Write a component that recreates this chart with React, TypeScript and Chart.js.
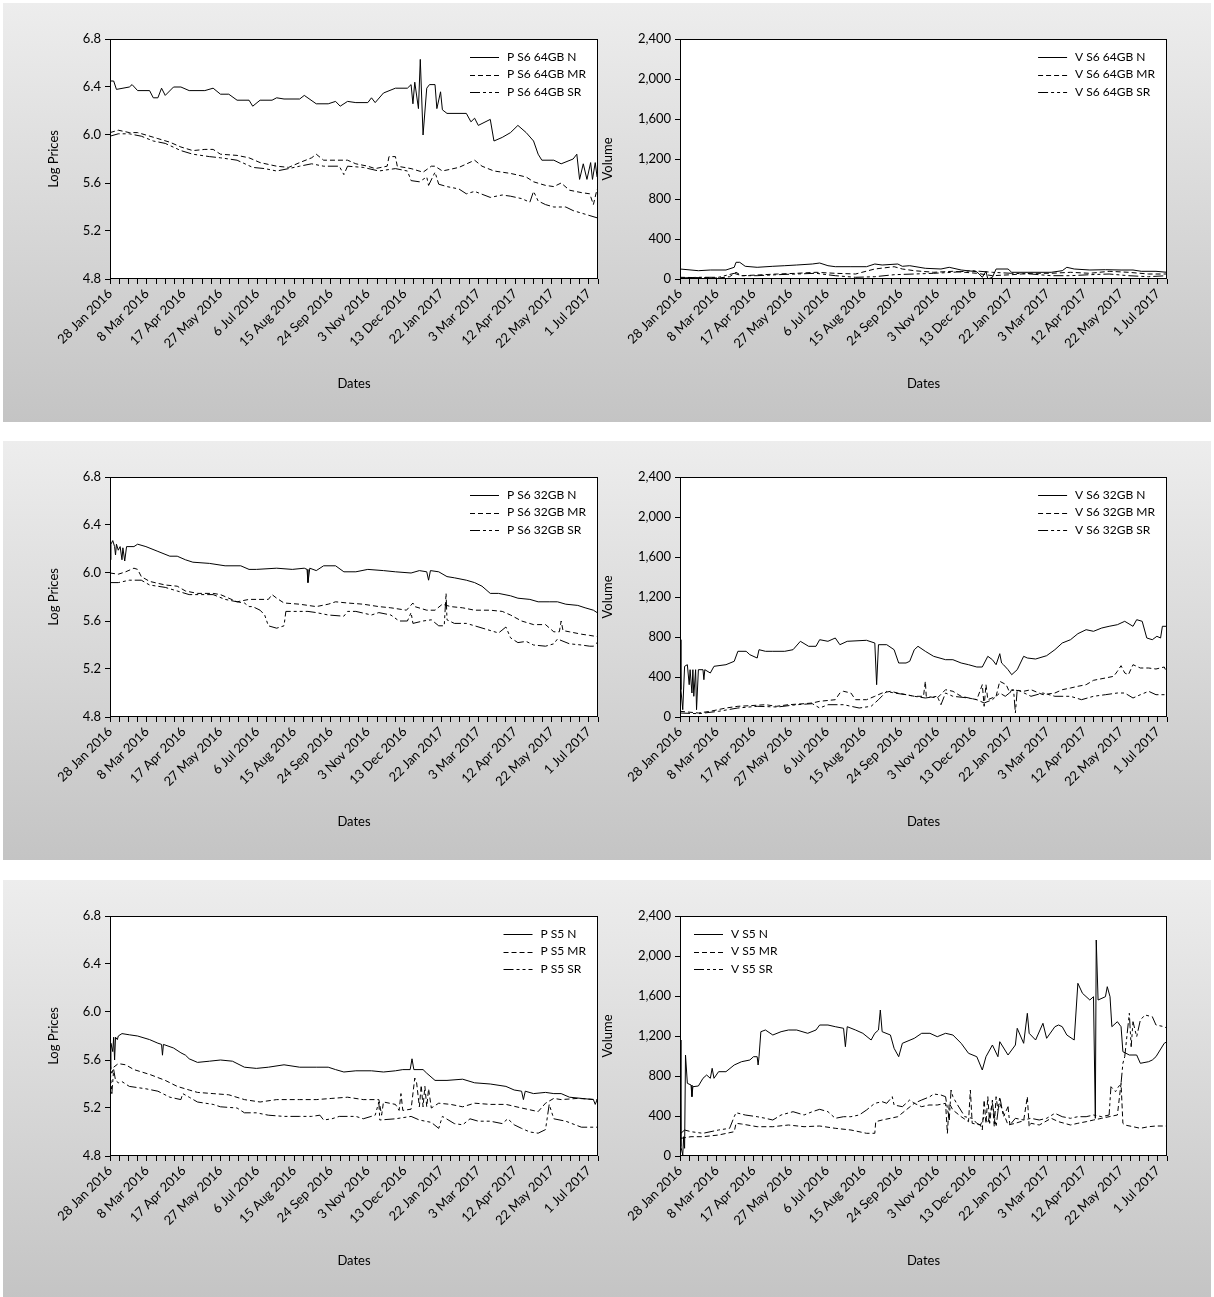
import { useEffect, useRef } from 'react';
import { Chart, registerables } from 'chart.js';

Chart.register(...registerables);

// ---------- axis data ----------
const xTickLabels = [
  '28 Jan 2016', '8 Mar 2016', '17 Apr 2016', '27 May 2016', '6 Jul 2016', '15 Aug 2016', '24 Sep 2016',
  '3 Nov 2016', '13 Dec 2016', '22 Jan 2017', '3 Mar 2017', '12 Apr 2017', '22 May 2017', '1 Jul 2017',
];
const xLabelEveryDays = 40;
const xMinorEveryDays = 10;
const xLastDay = 530;

const priceTicks = [4.8, 5.2, 5.6, 6.0, 6.4, 6.8];
const volumeTicks = [0, 400, 800, 1200, 1600, 2000, 2400];

type Pt = [number, number]; // [day since 28 Jan 2016, value]

// ---------- P S6 64GB ----------
const pS6_64_N: Pt[] = [[0,6.45],[4,6.45],[7,6.38],[21,6.40],[24,6.42],[30,6.37],[43,6.37],[47,6.31],[52,6.31],[56,6.39],[60,6.33],[69,6.40],[77,6.40],[86,6.37],[103,6.37],[112,6.39],[120,6.34],[129,6.34],[138,6.29],[151,6.29],[155,6.24],[163,6.29],[176,6.29],[181,6.31],[189,6.30],[206,6.30],[211,6.33],[224,6.26],[237,6.26],[245,6.28],[250,6.24],[258,6.28],[267,6.27],[280,6.27],[284,6.31],[288,6.27],[297,6.35],[310,6.39],[323,6.39],[327,6.42],[329,6.26],[331,6.44],[335,6.22],[337,6.63],[340,6.00],[344,6.39],[347,6.42],[353,6.42],[355,6.22],[359,6.36],[361,6.21],[366,6.18],[387,6.18],[392,6.11],[396,6.14],[400,6.08],[413,6.13],[417,5.95],[426,5.98],[435,6.02],[443,6.08],[452,6.02],[460,5.95],[465,5.84],[469,5.79],[482,5.79],[490,5.76],[503,5.80],[507,5.84],[510,5.63],[514,5.76],[518,5.63],[522,5.77],[524,5.63],[527,5.77],[529,5.65]];
const pS6_64_MR: Pt[] = [[0,6.02],[9,6.04],[21,6.02],[30,6.02],[39,6.00],[52,5.97],[65,5.94],[77,5.90],[90,5.87],[103,5.88],[112,5.88],[120,5.84],[138,5.83],[151,5.81],[163,5.77],[181,5.74],[194,5.73],[206,5.77],[219,5.81],[224,5.84],[232,5.79],[245,5.79],[258,5.79],[267,5.76],[280,5.74],[288,5.72],[301,5.74],[303,5.82],[310,5.82],[312,5.74],[327,5.72],[340,5.69],[349,5.74],[353,5.74],[361,5.70],[379,5.73],[396,5.79],[404,5.74],[417,5.70],[435,5.68],[452,5.65],[460,5.61],[473,5.58],[482,5.57],[490,5.60],[499,5.54],[512,5.52],[521,5.51],[525,5.42],[529,5.55]];
const pS6_64_SR: Pt[] = [[0,5.99],[9,6.01],[21,6.01],[34,5.99],[47,5.95],[60,5.93],[77,5.87],[90,5.84],[108,5.82],[120,5.81],[138,5.79],[155,5.73],[168,5.72],[181,5.70],[194,5.72],[206,5.74],[219,5.76],[232,5.74],[249,5.74],[254,5.67],[258,5.74],[275,5.73],[292,5.70],[310,5.72],[323,5.70],[327,5.62],[336,5.61],[344,5.65],[346,5.58],[353,5.69],[357,5.59],[366,5.57],[379,5.55],[387,5.51],[396,5.53],[413,5.48],[426,5.50],[435,5.49],[447,5.47],[456,5.44],[460,5.53],[465,5.45],[473,5.42],[482,5.40],[495,5.40],[503,5.37],[516,5.34],[529,5.31]];

// ---------- V S6 64GB ----------
const vS6_64_N: Pt[] = [[0,100],[20,83],[33,90],[50,90],[59,117],[61,167],[65,167],[71,127],[84,117],[101,127],[114,133],[127,140],[144,150],[152,160],[161,133],[169,123],[186,123],[203,123],[212,150],[220,140],[237,150],[242,127],[250,133],[267,107],[284,100],[293,117],[306,90],[323,73],[329,17],[333,77],[335,0],[340,17],[344,100],[357,100],[361,67],[382,67],[404,67],[416,83],[421,117],[429,100],[446,90],[463,93],[480,90],[493,90],[502,77],[518,77],[530,67]];
const vS6_64_MR: Pt[] = [[0,17],[42,10],[54,23],[61,67],[67,33],[84,40],[106,50],[127,57],[148,67],[169,57],[191,50],[212,100],[233,123],[242,100],[255,83],[276,67],[297,77],[323,57],[340,33],[361,43],[382,57],[404,57],[425,67],[446,57],[467,77],[488,67],[510,50],[530,50]];
const vS6_64_SR: Pt[] = [[0,10],[20,17],[42,17],[59,57],[67,33],[84,33],[106,43],[127,50],[148,57],[169,33],[191,17],[212,23],[233,43],[255,50],[276,57],[297,67],[318,83],[340,67],[361,57],[382,50],[404,33],[425,33],[446,43],[467,50],[488,33],[510,23],[530,33]];

// ---------- P S6 32GB ----------
const pS6_32_N: Pt[] = [[0,6.11],[1,6.24],[3,6.27],[5,6.22],[6,6.15],[7,6.24],[9,6.19],[11,6.22],[13,6.11],[14,6.21],[16,6.10],[18,6.22],[26,6.22],[30,6.24],[39,6.22],[52,6.18],[65,6.14],[73,6.14],[82,6.11],[90,6.09],[108,6.08],[125,6.06],[142,6.06],[151,6.03],[159,6.03],[181,6.04],[198,6.03],[211,6.04],[214,6.03],[215,5.92],[217,6.04],[224,6.02],[232,6.06],[245,6.06],[254,6.01],[267,6.01],[280,6.03],[297,6.02],[310,6.01],[327,6.00],[336,6.02],[344,6.01],[346,5.94],[348,6.02],[357,6.01],[366,5.97],[374,5.96],[387,5.94],[396,5.92],[404,5.89],[413,5.83],[422,5.83],[435,5.81],[443,5.79],[456,5.78],[465,5.76],[477,5.76],[486,5.76],[495,5.74],[508,5.73],[516,5.71],[525,5.69],[529,5.67]];
const pS6_32_MR: Pt[] = [[0,6.00],[9,5.99],[17,6.01],[26,6.04],[30,6.03],[34,5.97],[43,5.93],[60,5.90],[73,5.89],[82,5.85],[95,5.83],[112,5.83],[120,5.82],[138,5.76],[151,5.78],[159,5.78],[172,5.78],[176,5.82],[181,5.79],[189,5.75],[206,5.74],[224,5.72],[237,5.74],[245,5.76],[258,5.75],[275,5.74],[292,5.72],[305,5.71],[322,5.69],[329,5.75],[331,5.72],[344,5.69],[353,5.69],[361,5.74],[370,5.72],[383,5.71],[396,5.69],[413,5.69],[426,5.68],[435,5.65],[447,5.60],[460,5.57],[473,5.57],[482,5.51],[488,5.51],[490,5.60],[492,5.52],[499,5.51],[512,5.49],[521,5.48],[529,5.47]];
const pS6_32_SR: Pt[] = [[0,5.92],[9,5.92],[21,5.94],[34,5.94],[43,5.90],[60,5.88],[73,5.85],[86,5.82],[112,5.82],[125,5.78],[138,5.76],[146,5.75],[151,5.72],[155,5.72],[163,5.69],[168,5.65],[172,5.56],[181,5.54],[189,5.56],[191,5.68],[198,5.68],[215,5.68],[224,5.67],[237,5.65],[254,5.64],[258,5.68],[267,5.68],[284,5.65],[292,5.67],[305,5.65],[314,5.60],[323,5.60],[327,5.67],[329,5.58],[340,5.60],[349,5.61],[357,5.56],[363,5.56],[365,5.83],[366,5.61],[374,5.58],[387,5.58],[396,5.56],[409,5.53],[422,5.50],[430,5.55],[435,5.46],[443,5.42],[452,5.43],[460,5.40],[473,5.39],[482,5.41],[486,5.45],[499,5.41],[512,5.40],[521,5.39],[525,5.39],[529,5.42]];

// ---------- V S6 32GB ----------
const vS6_32_N: Pt[] = [[0,773],[1,273],[3,73],[5,507],[8,523],[10,323],[11,473],[13,240],[14,473],[15,207],[17,473],[18,73],[20,473],[25,473],[26,373],[27,473],[33,440],[37,507],[50,523],[59,557],[63,657],[72,657],[76,623],[84,590],[86,673],[93,657],[101,657],[114,657],[123,673],[131,757],[140,707],[148,707],[152,773],[161,757],[169,790],[174,723],[182,757],[203,767],[212,740],[214,323],[216,723],[225,723],[233,673],[238,540],[246,540],[250,557],[255,673],[259,707],[267,657],[276,607],[289,573],[297,573],[306,540],[314,523],[323,500],[329,500],[335,607],[340,573],[344,523],[348,633],[350,540],[352,523],[357,473],[361,423],[367,473],[374,607],[378,590],[387,580],[399,613],[408,673],[416,740],[425,773],[433,833],[442,873],[450,857],[459,890],[467,907],[476,923],[484,957],[493,907],[497,973],[503,957],[508,790],[514,773],[519,807],[523,790],[525,907],[530,907]];
const vS6_32_MR: Pt[] = [[0,57],[20,40],[33,57],[50,90],[63,107],[76,113],[93,123],[105,107],[118,123],[135,133],[144,140],[152,157],[169,173],[174,240],[178,257],[186,240],[191,173],[203,173],[212,207],[220,240],[229,257],[237,240],[255,207],[265,207],[267,357],[268,207],[280,190],[289,273],[297,257],[306,207],[323,173],[329,323],[331,107],[333,323],[335,173],[344,207],[348,357],[355,323],[359,240],[361,273],[374,257],[382,273],[395,223],[408,240],[416,273],[425,290],[433,307],[442,323],[450,367],[463,390],[472,407],[476,457],[480,513],[484,440],[488,423],[493,523],[501,490],[510,490],[518,480],[527,500],[530,440]];
const vS6_32_SR: Pt[] = [[0,40],[20,33],[42,57],[63,90],[84,107],[106,100],[127,123],[144,133],[152,90],[161,123],[178,123],[195,90],[208,107],[216,173],[225,257],[233,240],[246,223],[255,207],[267,190],[280,207],[284,123],[289,240],[297,207],[314,190],[323,173],[331,140],[340,173],[348,240],[354,207],[363,273],[365,40],[367,273],[382,207],[395,240],[408,207],[425,207],[437,173],[450,207],[463,223],[476,240],[484,240],[493,190],[501,223],[510,257],[518,223],[530,223]];

// ---------- P S5 ----------
const pS5_N: Pt[] = [[0,5.52],[1,5.74],[3,5.67],[4,5.79],[5,5.60],[6,5.79],[8,5.77],[9,5.80],[13,5.82],[21,5.81],[30,5.80],[43,5.77],[52,5.74],[56,5.73],[57,5.64],[58,5.73],[69,5.70],[77,5.66],[82,5.64],[86,5.61],[95,5.58],[108,5.59],[120,5.60],[133,5.59],[146,5.54],[159,5.53],[172,5.54],[189,5.56],[206,5.54],[224,5.54],[237,5.54],[245,5.52],[254,5.50],[267,5.51],[284,5.51],[297,5.50],[310,5.51],[318,5.52],[326,5.52],[328,5.61],[330,5.52],[340,5.52],[344,5.49],[353,5.43],[366,5.43],[383,5.44],[396,5.41],[413,5.40],[430,5.38],[439,5.35],[447,5.34],[449,5.27],[451,5.34],[460,5.32],[473,5.33],[482,5.32],[490,5.32],[499,5.29],[512,5.28],[525,5.27],[527,5.23],[529,5.27]];
const pS5_MR: Pt[] = [[0,5.57],[2,5.49],[4,5.54],[9,5.57],[17,5.56],[26,5.52],[43,5.48],[60,5.43],[73,5.38],[86,5.35],[95,5.33],[112,5.32],[129,5.31],[146,5.27],[163,5.25],[181,5.27],[206,5.27],[224,5.27],[241,5.28],[258,5.29],[275,5.27],[292,5.27],[295,5.14],[297,5.25],[310,5.23],[314,5.18],[316,5.32],[318,5.18],[327,5.19],[331,5.45],[333,5.41],[336,5.21],[338,5.39],[340,5.21],[342,5.38],[344,5.21],[346,5.36],[349,5.20],[357,5.24],[370,5.23],[383,5.21],[396,5.24],[413,5.23],[430,5.23],[447,5.20],[465,5.17],[473,5.24],[482,5.28],[490,5.27],[508,5.28],[529,5.27]];
const pS5_SR: Pt[] = [[0,5.54],[2,5.32],[4,5.52],[6,5.43],[9,5.41],[13,5.42],[21,5.38],[39,5.36],[52,5.34],[65,5.29],[77,5.27],[79,5.32],[86,5.29],[95,5.25],[112,5.23],[120,5.21],[138,5.20],[146,5.16],[159,5.16],[172,5.14],[189,5.13],[206,5.13],[219,5.13],[228,5.14],[232,5.10],[241,5.11],[249,5.13],[267,5.13],[275,5.11],[288,5.14],[292,5.25],[293,5.10],[310,5.11],[327,5.13],[336,5.10],[349,5.08],[357,5.03],[361,5.13],[374,5.07],[383,5.06],[391,5.11],[400,5.09],[413,5.09],[426,5.07],[432,5.11],[439,5.06],[447,5.03],[456,5.00],[465,4.99],[473,5.02],[477,5.23],[482,5.11],[495,5.09],[512,5.04],[529,5.04]];

// ---------- V S5 ----------
const vS5_N: Pt[] = [[0,1160],[1,93],[3,10],[4,193],[5,77],[6,1010],[8,727],[12,710],[13,593],[14,693],[20,700],[25,777],[29,810],[33,777],[35,877],[37,777],[42,843],[50,843],[59,910],[67,943],[76,960],[80,993],[84,993],[85,910],[86,993],[88,1243],[93,1260],[101,1210],[110,1243],[118,1260],[127,1260],[139,1227],[148,1260],[152,1310],[161,1310],[169,1293],[178,1277],[180,1093],[182,1293],[191,1260],[199,1227],[208,1160],[212,1227],[216,1260],[218,1460],[220,1243],[229,1210],[233,1077],[238,993],[242,1127],[255,1177],[263,1227],[272,1227],[280,1193],[289,1227],[297,1210],[306,1127],[314,1027],[323,993],[329,860],[333,993],[340,1110],[346,993],[348,1143],[357,1010],[365,1110],[367,1277],[374,1127],[378,1427],[380,1227],[387,1160],[395,1327],[399,1177],[408,1293],[412,1310],[416,1293],[421,1210],[429,1160],[433,1727],[438,1627],[446,1560],[450,1593],[452,377],[453,2160],[455,1560],[463,1593],[465,1693],[468,1593],[470,1293],[476,1343],[480,1293],[482,1043],[489,1010],[497,1010],[501,927],[510,943],[514,960],[518,993],[527,1127],[530,1143]];
const vS5_MR: Pt[] = [[1,177],[12,193],[25,193],[42,210],[59,243],[61,327],[67,320],[84,293],[101,293],[118,310],[135,293],[152,300],[169,277],[186,260],[203,227],[212,227],[213,343],[220,360],[229,377],[237,393],[246,460],[255,527],[263,493],[271,510],[280,510],[289,527],[291,227],[293,527],[297,460],[306,393],[314,343],[316,660],[318,327],[327,310],[329,260],[331,560],[333,327],[335,593],[337,327],[340,560],[342,293],[344,593],[346,460],[348,527],[357,310],[365,327],[374,353],[378,593],[380,293],[382,327],[391,310],[404,377],[412,343],[425,310],[433,327],[442,343],[450,360],[459,377],[467,393],[476,410],[480,727],[482,327],[484,310],[493,293],[501,277],[510,293],[518,300],[530,300]];
const vS5_SR: Pt[] = [[1,227],[5,260],[12,243],[25,227],[42,260],[54,277],[59,393],[61,433],[71,410],[84,393],[93,377],[101,360],[110,410],[123,443],[135,410],[144,443],[152,467],[161,443],[169,377],[178,393],[186,393],[195,410],[203,460],[212,527],[220,543],[225,527],[231,593],[233,510],[242,493],[250,560],[255,527],[263,560],[272,593],[276,620],[284,610],[289,593],[293,360],[295,660],[297,593],[301,527],[310,393],[318,377],[323,327],[327,310],[331,393],[335,327],[340,527],[344,293],[348,593],[352,393],[357,493],[359,310],[365,377],[374,360],[382,377],[391,360],[399,377],[408,427],[416,393],[425,377],[433,393],[442,393],[450,410],[459,393],[467,410],[469,693],[474,643],[476,677],[480,727],[482,927],[484,993],[489,1427],[491,1093],[493,1343],[497,1193],[501,1360],[506,1410],[514,1393],[518,1310],[527,1293],[530,1277]];

// ---------- styles ----------
const DASH_N: number[] = [];
const DASH_MR = [5, 3];
const DASH_SR = [10, 3, 3, 3, 3, 3];
const FONT = 'Lato, "Open Sans", sans-serif';

type Series = { label: string; data: Pt[]; dash: number[] };
type Panel = {
  id: string;
  row: number;
  col: number;
  yTitle: string;
  yTicks: number[];
  fmt: (v: number) => string;
  legendAlign: 'left' | 'right';
  series: Series[];
};

const fmtPrice = (v: number) => v.toFixed(1);
const fmtVol = (v: number) => v.toLocaleString('en-US');

const panels: Panel[] = [
  { id: 'p64', row: 0, col: 0, yTitle: 'Log Prices', yTicks: priceTicks, fmt: fmtPrice, legendAlign: 'right',
    series: [{ label: 'P S6 64GB N', data: pS6_64_N, dash: DASH_N }, { label: 'P S6 64GB MR', data: pS6_64_MR, dash: DASH_MR }, { label: 'P S6 64GB SR', data: pS6_64_SR, dash: DASH_SR }] },
  { id: 'v64', row: 0, col: 1, yTitle: 'Volume', yTicks: volumeTicks, fmt: fmtVol, legendAlign: 'right',
    series: [{ label: 'V S6 64GB N', data: vS6_64_N, dash: DASH_N }, { label: 'V S6 64GB MR', data: vS6_64_MR, dash: DASH_MR }, { label: 'V S6 64GB SR', data: vS6_64_SR, dash: DASH_SR }] },
  { id: 'p32', row: 1, col: 0, yTitle: 'Log Prices', yTicks: priceTicks, fmt: fmtPrice, legendAlign: 'right',
    series: [{ label: 'P S6 32GB N', data: pS6_32_N, dash: DASH_N }, { label: 'P S6 32GB MR', data: pS6_32_MR, dash: DASH_MR }, { label: 'P S6 32GB SR', data: pS6_32_SR, dash: DASH_SR }] },
  { id: 'v32', row: 1, col: 1, yTitle: 'Volume', yTicks: volumeTicks, fmt: fmtVol, legendAlign: 'right',
    series: [{ label: 'V S6 32GB N', data: vS6_32_N, dash: DASH_N }, { label: 'V S6 32GB MR', data: vS6_32_MR, dash: DASH_MR }, { label: 'V S6 32GB SR', data: vS6_32_SR, dash: DASH_SR }] },
  { id: 'p5', row: 2, col: 0, yTitle: 'Log Prices', yTicks: priceTicks, fmt: fmtPrice, legendAlign: 'right',
    series: [{ label: 'P S5 N', data: pS5_N, dash: DASH_N }, { label: 'P S5 MR', data: pS5_MR, dash: DASH_MR }, { label: 'P S5 SR', data: pS5_SR, dash: DASH_SR }] },
  { id: 'v5', row: 2, col: 1, yTitle: 'Volume', yTicks: volumeTicks, fmt: fmtVol, legendAlign: 'left',
    series: [{ label: 'V S5 N', data: vS5_N, dash: DASH_N }, { label: 'V S5 MR', data: vS5_MR, dash: DASH_MR }, { label: 'V S5 SR', data: vS5_SR, dash: DASH_SR }] },
];

// layout
const ROW_CANVAS_TOP = [0, 438, 877];
const BAND_TOP = [3, 441, 880];
const BAND_H = 419;
const CANVAS_H = 420;
const COL = [
  { left: 0, width: 620, yAxisW: 110, padR: 22, titlePad: 46 },
  { left: 596, width: 618, yAxisW: 84, padR: 47, titlePad: 4 },
];
const PLOT_TOP = 39;
const PLOT_H = 240;

function labelForDay(v: number): string {
  if (v % xLabelEveryDays !== 0) return '';
  return xTickLabels[v / xLabelEveryDays] ?? '';
}

function LineChart({ panel }: { panel: Panel }) {
  const ref = useRef<HTMLCanvasElement | null>(null);
  const col = COL[panel.col];

  useEffect(() => {
    const canvas = ref.current;
    if (!canvas) return;

    const framePlugin = {
      id: 'frame',
      beforeDraw(chart: any) {
        const { ctx, chartArea: a } = chart;
        ctx.save();
        ctx.fillStyle = '#ffffff';
        ctx.fillRect(a.left, a.top, a.right - a.left, a.bottom - a.top);
        ctx.restore();
      },
      afterDatasetsDraw(chart: any) {
        const { ctx, chartArea: a } = chart;
        ctx.save();
        ctx.strokeStyle = '#000';
        ctx.lineWidth = 1;
        ctx.setLineDash([]);
        const l = Math.round(a.left) + 0.5, t = Math.round(a.top) + 0.5;
        const r = Math.round(a.right) - 0.5, b = Math.round(a.bottom) - 0.5;
        ctx.strokeRect(l, t, r - l, b - t);

        // legend
        ctx.font = `12px ${FONT}`;
        ctx.fillStyle = '#000';
        ctx.textBaseline = 'middle';
        ctx.textAlign = 'left';
        const ds = chart.data.datasets;
        const maxW = Math.max(...ds.map((d: any) => ctx.measureText(d.label).width));
        const lineLen = 29, gap = 8;
        const x0 = panel.legendAlign === 'left'
          ? a.left + 14
          : a.right - 12 - maxW - gap - lineLen;
        ds.forEach((d: any, i: number) => {
          const y = a.top + 18 + i * 17.6;
          const yy = Math.round(y) + 0.5;
          ctx.beginPath();
          ctx.setLineDash(d.borderDash || []);
          ctx.moveTo(x0, yy);
          ctx.lineTo(x0 + lineLen, yy);
          ctx.stroke();
          ctx.setLineDash([]);
          ctx.fillText(d.label, x0 + lineLen + gap, y);
        });
        ctx.restore();
      },
    };

    const minorTicks: number[] = [];
    for (let d = 0; d <= xLastDay; d += xMinorEveryDays) minorTicks.push(d);

    const chart = new Chart(canvas, {
      type: 'line',
      data: {
        datasets: panel.series.map((s) => ({
          label: s.label,
          data: s.data.map(([x, y]) => ({ x, y })),
          borderColor: '#000',
          backgroundColor: '#000',
          borderWidth: 1,
          borderDash: s.dash,
          pointRadius: 0,
          tension: 0,
          fill: false,
        })),
      },
      options: {
        responsive: false,
        maintainAspectRatio: false,
        animation: false,
        devicePixelRatio: 1,
        layout: { padding: { top: PLOT_TOP, right: col.padR, left: 0, bottom: 0 } },
        plugins: { legend: { display: false }, tooltip: { enabled: false } },
        scales: {
          x: {
            type: 'linear',
            min: 0,
            max: xLastDay,
            afterBuildTicks: (scale: any) => {
              scale.ticks = minorTicks.map((v) => ({ value: v }));
            },
            afterFit: (scale: any) => {
              scale.height = CANVAS_H - PLOT_TOP - PLOT_H;
            },
            ticks: {
              autoSkip: false,
              maxRotation: 45,
              minRotation: 45,
              padding: 2,
              color: '#000',
              font: { family: FONT, size: 13 },
              callback: (v: any) => labelForDay(Number(v)),
            },
            grid: { drawOnChartArea: false, drawTicks: true, tickLength: 5, color: '#000', lineWidth: 1 },
            border: { display: false },
            title: {
              display: true,
              text: 'Dates',
              color: '#000',
              font: { family: FONT, size: 13 },
              padding: { top: 0, bottom: 28 },
            },
          },
          y: {
            type: 'linear',
            min: panel.yTicks[0],
            max: panel.yTicks[panel.yTicks.length - 1],
            afterBuildTicks: (scale: any) => {
              scale.ticks = panel.yTicks.map((v) => ({ value: v }));
            },
            afterFit: (scale: any) => {
              scale.width = col.yAxisW;
            },
            ticks: {
              padding: 4,
              color: '#000',
              font: { family: FONT, size: 13 },
              callback: (v: any) => panel.fmt(Number(v)),
            },
            grid: { drawOnChartArea: false, drawTicks: true, tickLength: 5, color: '#000', lineWidth: 1 },
            border: { display: false },
            title: {
              display: true,
              text: panel.yTitle,
              color: '#000',
              font: { family: FONT, size: 13 },
              padding: { top: col.titlePad, bottom: 0 },
            },
          },
        },
      },
      plugins: [framePlugin],
    } as any);

    return () => chart.destroy();
  }, [panel]);

  return (
    <canvas
      ref={ref}
      width={col.width}
      height={CANVAS_H}
      style={{
        position: 'absolute',
        left: col.left,
        top: ROW_CANVAS_TOP[panel.row],
        width: col.width,
        height: CANVAS_H,
      }}
    />
  );
}

export default function App() {
  return (
    <div
      style={{
        position: 'absolute',
        left: 0,
        top: 0,
        width: 1214,
        height: 1297,
        background: '#ffffff',
        overflow: 'hidden',
      }}
    >
      {BAND_TOP.map((t) => (
        <div
          key={t}
          style={{
            position: 'absolute',
            left: 3,
            top: t,
            width: 1208,
            height: BAND_H,
            background: 'linear-gradient(#ededed, #c4c4c4)',
          }}
        />
      ))}
      {panels.map((p) => (
        <LineChart key={p.id} panel={p} />
      ))}
    </div>
  );
}
